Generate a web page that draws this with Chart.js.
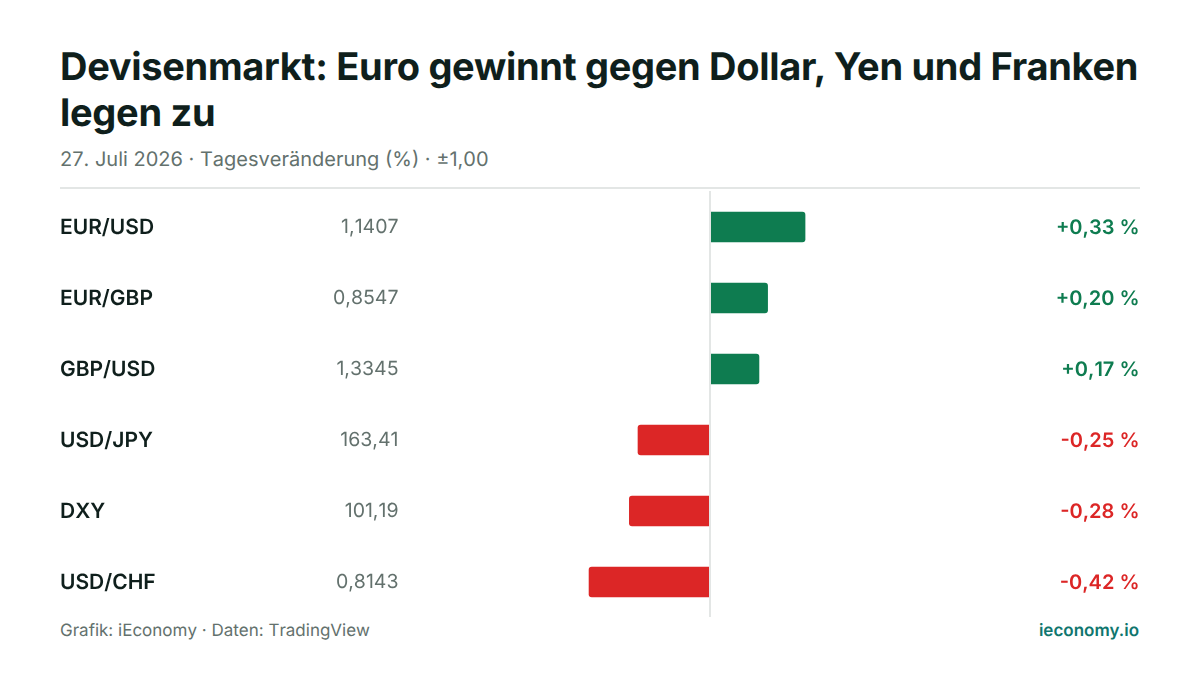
<!DOCTYPE html>
<html><head><meta charset="utf-8">
<script src="https://cdn.jsdelivr.net/npm/chart.js@4"></script>
<style>
html,body{margin:0;padding:0;background:#fff;width:1200px;height:675px;overflow:hidden;font-family:Inter,sans-serif;text-rendering:geometricPrecision}
#t{position:absolute;left:60px;top:45px;width:1090px;font-size:38px;line-height:45.6px;font-weight:700;color:#0f1f1c;letter-spacing:-0.3px}
#s{position:absolute;left:60px;top:147px;font-size:20px;line-height:24px;color:#63716d;font-kerning:none}
#r{position:absolute;left:60px;top:187px;width:1080px;height:2px;background:#e3e6e5}
#f{position:absolute;left:60px;top:621px;font-size:17px;line-height:20px;color:#63716d;font-kerning:none}
#b{position:absolute;right:61px;top:621px;font-size:17px;line-height:20px;color:#0f766e;font-weight:600}
#c{position:absolute;left:0;top:191px;width:1200px;height:426px}
</style></head><body>
<div id="t">Devisenmarkt: Euro gewinnt gegen Dollar, Yen und Franken legen zu</div>
<div id="s">27. Juli 2026 · Tagesveränderung (%) · ±1,00</div>
<div id="r"></div>
<div id="c"><canvas id="cv" width="1200" height="426"></canvas></div>
<div id="f">Grafik: iEconomy · Daten: TradingView</div>
<div id="b">ieconomy.io</div>
<script>
const categories=["EUR/USD","EUR/GBP","GBP/USD","USD/JPY","DXY","USD/CHF"];
const prices=["1,1407","0,8547","1,3345","163,41","101,19","0,8143"];
const changes=[0.33,0.20,0.17,-0.25,-0.28,-0.42];
const changeLabels=["+0,33 %","+0,20 %","+0,17 %","-0,25 %","-0,28 %","-0,42 %"];
const UP="#0e7c50",DOWN="#dc2626";
const rowText={id:"rowText",
 beforeDatasetsDraw(ch){ch.ctx.save();ch.ctx.translate(0,0.5);},
 afterDatasetsDraw(ch){
  const c=ch.ctx,y=ch.scales.y;
  c.restore();
  c.save();c.textBaseline="middle";c.textRendering="geometricPrecision";c.fontKerning="none";
  categories.forEach((n,i)=>{
    const py=y.getPixelForValue(i)+1;
    c.font="600 21px Inter";c.fillStyle="#0f1f1c";c.textAlign="left";c.fillText(n,60,py);
    c.font="400 19.5px Inter";c.fillStyle="#63716d";c.textAlign="right";c.fillText(prices[i],398.5,py);
    c.font="600 20px Inter";c.fillStyle=changes[i]>=0?UP:DOWN;c.textAlign="right";c.fillText(changeLabels[i],1139.5,py);
  });
  c.restore();
}};
new Chart(document.getElementById("cv"),{
  type:"bar",
  data:{labels:categories,datasets:[{data:changes,
    backgroundColor:changes.map(v=>v>=0?UP:DOWN),
    borderRadius:changes.map(v=>v>=0?{topLeft:0,bottomLeft:0,topRight:3,bottomRight:3}:{topLeft:3,bottomLeft:3,topRight:0,bottomRight:0}),
    borderSkipped:false,borderWidth:0,barThickness:30}]},
  options:{indexAxis:"y",responsive:false,animation:false,
    layout:{padding:{left:422,right:202,top:0,bottom:0}},
    plugins:{legend:{display:false},tooltip:{enabled:false}},
    scales:{
      x:{min:-1,max:1,display:true,position:"top",ticks:{display:false},border:{display:false},
        grid:{z:1,drawTicks:false,lineWidth:c=>c.tick.value===0?2:0,color:"#e3e6e5"}},
      y:{display:false}
    }},
  plugins:[rowText]
});
</script></body></html>
